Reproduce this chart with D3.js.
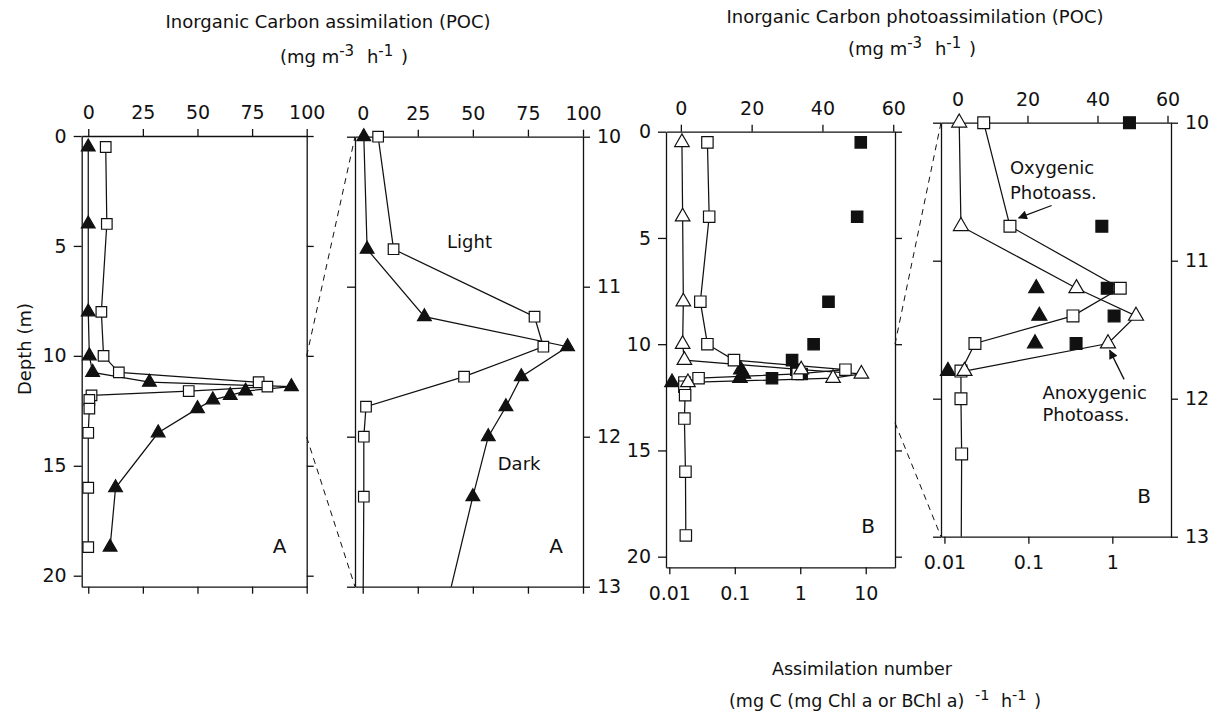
<!DOCTYPE html>
<html>
<head>
<meta charset="utf-8">
<script src="https://cdn.jsdelivr.net/npm/d3@7"></script>
<style>
body { margin: 0; background: #fff; }
svg text { font-family: "DejaVu Sans", sans-serif; fill: #111; }
</style>
</head>
<body>
<div id="chart"></div>
<script>
// ---- data (depth in m) ----
// A: inorganic carbon assimilation, light (squares) and dark (triangles)
var depthsA = [0.5, 4, 8, 10, 10.75, 11.2, 11.4, 11.6, 11.8, 12, 12.4, 13.5, 16, 18.7];
var lightA  = [8, 8.5, 6, 7, 14, 78, 82, 46, 1.5, 0.5, 0.5, 0, 0, 0];
var darkA   = [0, 0, 0, 0.5, 2, 28, 93, 72, 65, 57, 50, 32, 12.5, 10];

// B: photoassimilation (linear top axis)
var depthsOxy  = [0.5, 4, 8, 10, 10.75, 11.2, 11.4, 11.6, 11.8, 12, 12.4, 13.5, 16, 19];
var oxygenic   = [7.5, 8, 5.5, 7.5, 15, 46.5, 33, 5, 1, 1, 1.2, 1, 1.3, 1.4];
var depthsAnox = [0.5, 4, 8, 10, 10.75, 11.2, 11.4, 11.6, 11.8];
var anoxygenic = [0.3, 0.5, 0.7, 0.5, 1, 34, 51, 43, 2];

// B: assimilation numbers (log bottom axis)
var depthsOxyNum  = [0.5, 4, 8, 10, 10.75, 11.2, 11.4, 11.6];
var oxyNumber     = [8.4, 7.4, 2.7, 1.6, 0.75, 0.87, 1.05, 0.37];
var depthsAnoxNum = [11.2, 11.4, 11.6, 11.8];
var anoxNumber    = [0.124, 0.135, 0.12, 0.011];

// ticks
var depthTicksFull = [0, 5, 10, 15, 20];
var depthTicksZoom = [10, 11, 12, 13];
var ticksA = [0, 25, 50, 75, 100];
var ticksB = [0, 20, 40, 60];
var ticksLogFull = [0.01, 0.1, 1, 10];
var ticksLogZoom = [0.01, 0.1, 1];
var zoomLinks = [10, 13.7];

var W = 1216, H = 713;
var FONT = 19;
var svg = d3.select('#chart').append('svg').attr('width', W).attr('height', H);

var defs = svg.append('defs');
defs.append('marker')
    .attr('id', 'arrow')
    .attr('viewBox', '0 0 10 10')
    .attr('refX', 9).attr('refY', 5)
    .attr('markerWidth', 9).attr('markerHeight', 7)
    .attr('orient', 'auto')
    .append('path').attr('d', 'M0,0 L10,5 L0,10 z').attr('fill', '#111');

function series(depths, values, opts) {
    return {
        points: depths.map(function(d, i) { return { depth: d, value: values[i] }; }),
        log: !!opts.log, marker: opts.marker, filled: !!opts.filled, line: !!opts.line
    };
}

var seriesA = [
    series(depthsA, lightA, { marker: 'square', line: true }),
    series(depthsA, darkA, { marker: 'triangle', filled: true, line: true })
];
var seriesB = [
    series(depthsOxyNum, oxyNumber, { marker: 'square', filled: true, log: true }),
    series(depthsAnoxNum, anoxNumber, { marker: 'triangle', filled: true, log: true }),
    series(depthsOxy, oxygenic, { marker: 'square', line: true }),
    series(depthsAnox, anoxygenic, { marker: 'triangle', line: true })
];

var panels = [
    { id: 'p1', box: [81.7, 136, 306.7, 586.7], xDomain: [-3, 100], xTicks: ticksA,
      depth: [0, 20.5], depthTicks: depthTicksFull, depthLabels: 'left', series: seriesA, letter: 'A', mark: [112, 82] },
    { id: 'p2', box: [355, 136.7, 583, 586.7], xDomain: [-3.5, 100], xTicks: ticksA,
      depth: [10, 13], depthTicks: depthTicksZoom, depthLabels: 'right', series: seriesA, letter: 'A', mark: [112, 82] },
    { id: 'p3', box: [666, 131.7, 895, 567.3], xDomain: [-4.2, 60.5], xTicks: ticksB,
      logDomain: [0.0089, 28], logTicks: ticksLogFull,
      depth: [0, 20.5], depthTicks: depthTicksFull, depthLabels: 'left', series: seriesB, letter: 'B', mark: [130, 92] },
    { id: 'p4', box: [941, 122.7, 1171, 536.7], xDomain: [-4.7, 61], xTicks: ticksB,
      logDomain: [0.0091, 5.0], logTicks: ticksLogZoom,
      depth: [10, 13], depthTicks: depthTicksZoom, depthLabels: 'right', series: seriesB, letter: 'B', mark: [140, 98] }
];

function styleAxis(g) {
    g.selectAll('path, line').attr('stroke', '#111').attr('stroke-width', 1.3);
    g.selectAll('text').attr('font-size', FONT).attr('font-family', '"DejaVu Sans", sans-serif').attr('fill', '#111');
}

function drawPanel(p) {
    var x0 = p.box[0], y0 = p.box[1], x1 = p.box[2], y1 = p.box[3];
    p.x = d3.scaleLinear().domain(p.xDomain).range([x0, x1]);
    p.y = d3.scaleLinear().domain(p.depth).range([y0, y1]);
    if (p.logDomain) {
        p.xLog = d3.scaleLog().domain(p.logDomain).range([x0, x1]);
    }
    var g = svg.append('g').attr('class', p.id);

    g.append('clipPath').attr('id', 'clip-' + p.id)
        .append('rect').attr('x', x0).attr('y', y0).attr('width', x1 - x0).attr('height', y1 - y0);

    // top axis (linear, labelled)
    g.append('g').attr('transform', 'translate(0,' + y0 + ')')
        .call(d3.axisTop(p.x).tickValues(p.xTicks).tickFormat(d3.format('d'))
            .tickSize(7).tickSizeOuter(0).tickPadding(10))
        .call(styleAxis);

    // bottom axis: log with labels for B, bare ticks for A
    var bottom = p.xLog
        ? d3.axisBottom(p.xLog).tickValues(p.logTicks).tickFormat(function(d) { return String(d); }).tickPadding(12)
        : d3.axisBottom(p.x).tickValues(p.xTicks).tickFormat('');
    g.append('g').attr('transform', 'translate(0,' + y1 + ')')
        .call(bottom.tickSize(7).tickSizeOuter(0))
        .call(styleAxis);

    var left = d3.axisLeft(p.y).tickValues(p.depthTicks).tickFormat(d3.format('d'))
        .tickSize(8).tickSizeOuter(0).tickPadding(7);
    var right = d3.axisRight(p.y).tickValues(p.depthTicks).tickFormat(d3.format('d'))
        .tickSize(7).tickSizeOuter(0).tickPadding(7);
    if (p.depthLabels === 'left') right.tickFormat(''); else left.tickFormat('');
    g.append('g').attr('transform', 'translate(' + x0 + ',0)').call(left).call(styleAxis);
    g.append('g').attr('transform', 'translate(' + x1 + ',0)').call(right).call(styleAxis);

    var lines = g.append('g').attr('clip-path', 'url(#clip-' + p.id + ')');
    var marks = g.append('g');

    var inRange = function(d) { return d.depth >= p.depth[0] && d.depth <= p.depth[1]; };

    p.series.forEach(function(s) {
        if (!s.line) return;
        var xs = s.log ? p.xLog : p.x;
        lines.append('path')
            .datum(s.points)
            .attr('fill', 'none')
            .attr('stroke', '#111')
            .attr('stroke-width', 1.25)
            .attr('d', d3.line().x(function(d) { return xs(d.value); }).y(function(d) { return p.y(d.depth); }));
    });

    // filled markers sit under the open ones
    p.series.forEach(function(s) {
        var xs = s.log ? p.xLog : p.x;
        var sym = s.marker === 'square'
            ? d3.symbol().type(d3.symbolSquare).size(p.mark[0])
            : d3.symbol().type(d3.symbolTriangle).size(p.mark[1]);
        var layer = s.filled ? marks.insert('g', ':first-child') : marks.append('g');
        layer.selectAll('path')
            .data(s.points.filter(inRange))
            .join('path')
            .attr('transform', function(d) { return 'translate(' + xs(d.value) + ',' + p.y(d.depth) + ')'; })
            .attr('d', sym)
            .attr('fill', s.filled ? '#111' : '#fff')
            .attr('stroke', '#111')
            .attr('stroke-width', 1.2);
    });

    g.append('text')
        .attr('x', x1 - 27).attr('y', y1 - 34)
        .attr('text-anchor', 'middle')
        .attr('font-size', 20)
        .text(p.letter);
}

panels.forEach(drawPanel);

// dashed zoom guides
function zoomGuide(full, zoom) {
    zoomLinks.forEach(function(depth, i) {
        svg.append('line')
            .attr('x1', full.x.range()[1]).attr('y1', full.y(depth))
            .attr('x2', zoom.x.range()[0]).attr('y2', zoom.y(zoom.depth[i]))
            .attr('stroke', '#111').attr('stroke-width', 1)
            .attr('stroke-dasharray', '6,5');
    });
}
zoomGuide(panels[0], panels[1]);
zoomGuide(panels[2], panels[3]);

// annotations
var p2 = panels[1], p4 = panels[3];
function note(p, xv, dv, txt, anchor) {
    return svg.append('text').attr('x', p.x(xv)).attr('y', p.y(dv))
        .attr('text-anchor', anchor || 'start').attr('font-size', 18).text(txt);
}
note(p2, 48.5, 10.74, 'Light', 'middle');
note(p2, 71, 12.22, 'Dark', 'middle');
note(p4, 15, 10.37, 'Oxygenic');
note(p4, 15, 10.55, 'Photoass.');
note(p4, 24.3, 12.0, 'Anoxygenic');
note(p4, 24.3, 12.16, 'Photoass.');

svg.append('line')
    .attr('x1', p4.x(26.9)).attr('y1', p4.y(10.6))
    .attr('x2', p4.x(17.5)).attr('y2', p4.y(10.69))
    .attr('stroke', '#111').attr('stroke-width', 1.3).attr('marker-end', 'url(#arrow)');
svg.append('line')
    .attr('x1', p4.x(47.6)).attr('y1', p4.y(11.86))
    .attr('x2', p4.x(43.5)).attr('y2', p4.y(11.65))
    .attr('stroke', '#111').attr('stroke-width', 1.3).attr('marker-end', 'url(#arrow)');

// titles; parts are [text, superscript?, dx]
function textLine(x, y, size, parts) {
    var t = svg.append('text').attr('x', x).attr('y', y).attr('text-anchor', 'middle').attr('font-size', size);
    var raised = false;
    parts.forEach(function(part) {
        var sp = t.append('tspan').text(part[0]);
        if (part[1] && !raised) { sp.attr('dy', -7).attr('font-size', size - 3); raised = true; }
        else if (part[1]) { sp.attr('font-size', size - 3); }
        else if (raised) { sp.attr('dy', 7); raised = false; }
        if (part[2]) sp.attr('dx', part[2]);
    });
    return t;
}

var unitParts = [['(mg m'], ['-3', true], ['  h', false, 7], ['-1', true], [' )', false, 2]];

textLine(328, 28, 18, [['Inorganic Carbon assimilation (POC)']]);
textLine(344, 63, 18, unitParts);

textLine(915, 23, 18, [['Inorganic Carbon photoassimilation (POC)']]);
textLine(912, 55, 18, unitParts);

textLine(862, 675, 17.5, [['Assimilation number']]);
textLine(885, 707, 17.5, [['(mg C (mg Chl a or BChl a) '], ['-1', true, 5], ['  h', false, 6], ['-1', true], [' )', false, 2]]);

svg.append('text')
    .attr('transform', 'translate(31,349) rotate(-90)')
    .attr('text-anchor', 'middle').attr('font-size', 18)
    .text('Depth (m)');
</script>
</body>
</html>
